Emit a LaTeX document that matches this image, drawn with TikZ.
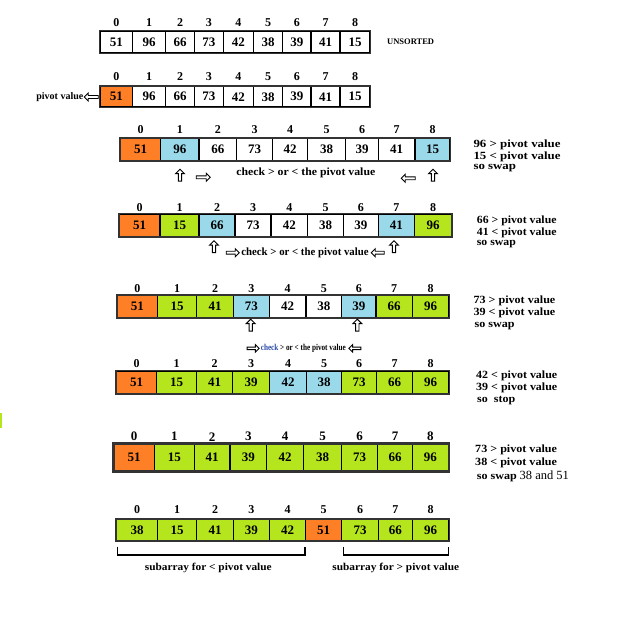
\documentclass[tikz,border=0pt]{standalone}
\usepackage{fontspec}
\setmainfont{Liberation Serif}
\usetikzlibrary{shapes.arrows}
\definecolor{porange}{HTML}{FF7F27}
\definecolor{pgreen}{HTML}{B5E61D}
\definecolor{pblue}{HTML}{99D9EA}
\definecolor{pcheck}{HTML}{2A4BA8}
\newcommand{\arrrow}[5]{%
  \pgfmathsetmacro\rowh{#3-#2}%
  \pgfmathsetmacro\rowc{(#2+#3)/2}%
  \foreach \a/\b/\v/\c [count=\i from 0] in {#5}{%
    \pgfmathsetmacro\w{\b-\a}%
    \pgfmathsetmacro\xc{(\a+\b)/2}%
    \node[cellbox, fill=\c, minimum width=\w pt, minimum height=\rowh pt] (#1c\i) at (\xc,\rowc) {\v};
    \node[idx] (#1i\i) at (\xc,#4) {\i};
  }%
  \draw[frame] (#1c0.north west) rectangle (#1c8.south east);
}
\newcommand{\widentext}[2]{\scalebox{#1}[1]{#2}}
\begin{document}
\begin{tikzpicture}[x=1pt,y=-1pt,
  cellbox/.style={draw=black, line width=1.1pt, rectangle, inner sep=0pt, font=\fontsize{13}{13}\selectfont\bfseries},
  idx/.style={inner sep=0pt, font=\fontsize{12}{12}\selectfont\bfseries},
  frame/.style={draw=black!80, line width=1.8pt},
  note/.style={anchor=west, inner sep=0pt, font=\fontsize{11}{11}\selectfont\bfseries},
  chk/.style={inner sep=0pt, font=\fontsize{11}{11}\selectfont\bfseries},
  hollow/.style={single arrow, draw=black, line width=0.9pt, fill=white, minimum height=12pt, minimum width=9pt, single arrow head extend=2.5pt, inner sep=1pt},
  uparrow/.style={hollow, shape border rotate=90},
  rarrow/.style={hollow, shape border rotate=0, minimum height=14pt, minimum width=8pt},
  larrow/.style={hollow, shape border rotate=180, minimum height=14pt, minimum width=8pt},
]
\useasboundingbox (0,0) rectangle (640,618);
\fill[white] (0,0) rectangle (640,618);

% row 1
\arrrow{a}{31}{53}{22.7}{100/132.7/51/white,132.7/165.7/96/white,165.7/194.3/66/white,194.3/223.3/73/white,223.3/253.3/42/white,253.3/282.7/38/white,282.7/311/39/white,311/340/41/white,340/370/15/white}
\node[inner sep=0pt, anchor=west, font=\fontsize{8.5}{8.5}\selectfont\bfseries] (unsorted) at (387,41.7) {UNSORTED};

% row 2
\arrrow{b}{86.5}{107}{76.7}{100/132.7/51/porange,132.7/165.7/96/white,165.7/194.3/66/white,194.3/223.3/73/white,223.3/253.3/42/white,253.3/282.7/38/white,282.7/311/39/white,311/340/41/white,340/370/15/white}
\node[larrow, minimum height=14pt, minimum width=8pt] (pivarr) at (92,97) {};
\node[inner sep=0pt, anchor=east, font=\fontsize{10}{10}\selectfont\bfseries] (pivtxt) at (83.5,97) {pivot value};

% row 3
\arrrow{c}{138.3}{160.7}{129.3}{120.7/160.7/51/porange,160.7/199/96/pblue,199/236.7/66/white,236.7/272.3/73/white,272.3/307.7/42/white,307.7/345.7/38/white,345.7/378.3/39/white,378.3/415/41/white,415/450/15/pblue}
\node[uparrow] (cu1) at (180,176) {};
\node[uparrow] (cu2) at (433,176) {};
\node[rarrow] (cr) at (202.5,177.3) {};
\node[larrow] (cl) at (409,178.3) {};
\node[chk] (ct) at (305.8,172.7) {\widentext{1.07}{check > or < the pivot value}};
\node[note] (cn1) at (473.3,145) {\widentext{1.17}{96 > pivot value}};
\node[note] (cn2) at (473.3,156.8) {\widentext{1.17}{15 < pivot value}};
\node[note] (cn3) at (473.3,168.5) {\widentext{1.17}{so swap}};

% row 4
\arrrow{d}{214}{236.7}{207.5}{119.3/160/51/porange,160/199/15/pgreen,199/235/66/pblue,235/271/73/white,271/307.7/42/white,307.7/343.3/38/white,343.3/378.3/39/white,378.3/414.3/41/pblue,414.3/451.7/96/pgreen}
\node[uparrow] (du1) at (214,247.5) {};
\node[uparrow] (du2) at (394,247.5) {};
\node[rarrow, minimum height=13pt] (dr) at (232,252.7) {};
\node[larrow, minimum height=13pt] (dl) at (378.5,252.7) {};
\node[chk] (dt) at (305,252.7) {\widentext{0.98}{check > or < the pivot value}};
\node[note] (dn1) at (476.7,221) {\widentext{1.07}{66 > pivot value}};
\node[note] (dn2) at (476.7,232.5) {\widentext{1.07}{41 < pivot value}};
\node[note] (dn3) at (476.7,244) {\widentext{1.07}{so swap}};

% row 5
\arrrow{e}{295.7}{317.3}{288.3}{117.3/157.3/51/porange,157.3/196.7/15/pgreen,196.7/233.3/41/pgreen,233.3/269.3/73/pblue,269.3/306/42/white,306/341.7/38/white,341.7/376/39/pblue,376/412.3/66/pgreen,412.3/449/96/pgreen}
\node[uparrow] (eu1) at (250.7,326) {};
\node[uparrow] (eu2) at (357.3,326) {};
\node[rarrow, minimum height=12pt, minimum width=7pt, inner sep=0.8pt] (er) at (252.5,348.3) {};
\node[larrow, minimum height=12pt, minimum width=7pt, inner sep=0.8pt] (el) at (355.5,348.3) {};
\node[chk, font=\fontsize{9}{9}\selectfont\bfseries] (et) at (303.3,348.3) {\widentext{0.8}{\textcolor{pcheck}{check} > or < the pivot value}};
\node[note] (en1) at (473.3,300.7) {\widentext{1.1}{73 > pivot value}};
\node[note] (en2) at (473.3,313.3) {\widentext{1.1}{39 < pivot value}};
\node[note] (en3) at (474.5,326) {\widentext{1.1}{so swap}};

% row 6
\arrrow{f}{371}{393.3}{364}{116.7/156.7/51/porange,156.7/196.7/15/pgreen,196.7/232.7/41/pgreen,232.7/269.3/39/pgreen,269.3/306.7/42/pblue,306.7/341.7/38/pblue,341.7/376.7/73/pgreen,376.7/412.3/66/pgreen,412.3/449/96/pgreen}
\node[note] (fn1) at (476,375.7) {\widentext{1.09}{42 < pivot value}};
\node[note] (fn2) at (476,388.3) {\widentext{1.09}{39 < pivot value}};
\node[note] (fn3) at (477,401) {\widentext{1.09}{so\ \ stop}};

% stray mark
\fill[pgreen] (0,413) rectangle (1.7,428);

% row 7
\begin{scope}[idx/.append style={font=\fontsize{13}{13}\selectfont\bfseries}, frame/.append style={line width=2.4pt}, cellbox/.append style={line width=1.4pt}]
\arrrow{g}{444.3}{470.7}{436.7}{114/154.3/51/porange,154.3/194.3/15/pgreen,194.3/230/41/pgreen,230/266.7/39/pgreen,266.7/303.3/42/pgreen,303.3/341.7/38/pgreen,341.7/377.7/73/pgreen,377.7/412.3/66/pgreen,412.3/448.3/96/pgreen}
\end{scope}
\node[note] (gn1) at (475,450) {\widentext{1.1}{73 > pivot value}};
\node[note] (gn2) at (475,462.7) {\widentext{1.1}{38 < pivot value}};
\node[note] (gn3) at (476.7,476) {\widentext{1.1}{so swap} \fontsize{12.5}{12.5}\selectfont\mdseries 38 and 51};

% row 8
\arrrow{h}{519.3}{540.7}{510}{116.7/157.7/38/pgreen,157.7/196.7/15/pgreen,196.7/233.3/41/pgreen,233.3/269.3/39/pgreen,269.3/305.7/42/pgreen,305.7/341.7/51/porange,341.7/378.3/73/pgreen,378.3/412.3/66/pgreen,412.3/449/96/pgreen}
\coordinate (b1a) at (117.3,546.7);
\coordinate (b1b) at (305,546.7);
\coordinate (b2a) at (343.3,546.7);
\coordinate (b2b) at (448.3,546.7);
\draw[line width=1.5pt] (b1a) -- ++(0,8.3) -| (b1b);
\draw[line width=1.5pt] (b2a) -- ++(0,8.3) -| (b2b);
\node[chk, font=\fontsize{10.5}{10.5}\selectfont\bfseries] (ht1) at (208.3,568.3) {\widentext{1.08}{subarray for < pivot value}};
\node[chk, font=\fontsize{10.5}{10.5}\selectfont\bfseries] (ht2) at (395.8,568.3) {\widentext{1.08}{subarray for > pivot value}};
\end{tikzpicture}
\end{document}
